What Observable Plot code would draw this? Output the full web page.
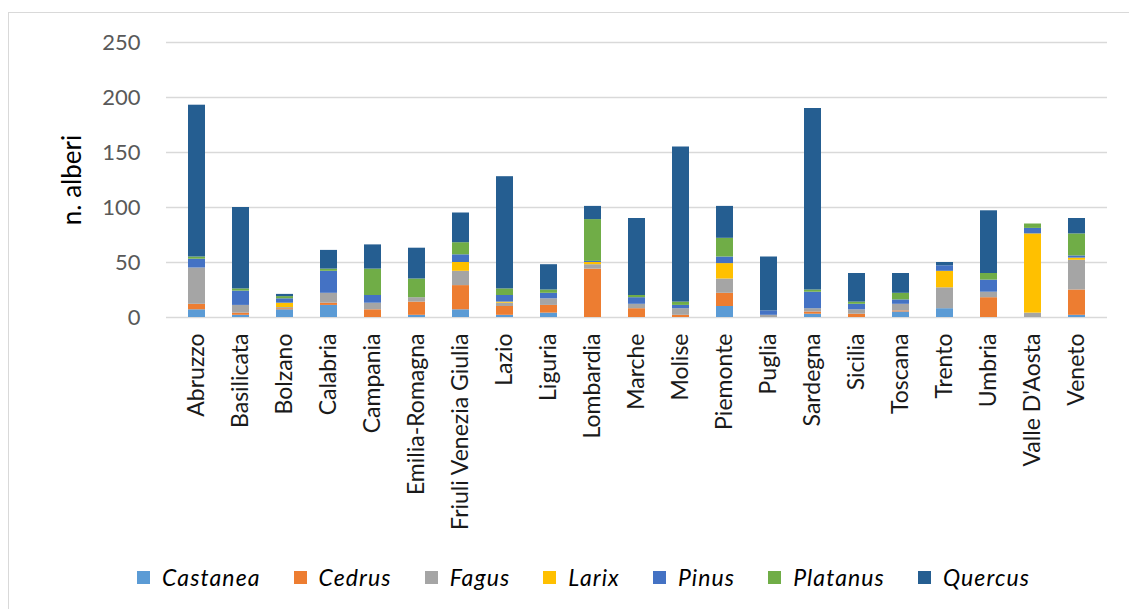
<!DOCTYPE html>
<html>
<head>
<meta charset="utf-8">
<script src="https://cdn.jsdelivr.net/npm/d3@7"></script>
<script src="https://cdn.jsdelivr.net/npm/@observablehq/plot@0.6"></script>
<style>
  html, body { margin: 0; padding: 0; background: #fff; overflow: hidden; }
  #wrap { position: relative; width: 1129px; height: 609px; overflow: hidden; font-family: Lato, sans-serif; }
  #frame { position: absolute; left: 8px; top: 12px; width: 1300px; height: 800px; border: 1.5px solid #d9d9d9; box-sizing: border-box; }
  #chart { position: absolute; left: 0; top: 0; }
  #legend { position: absolute; left: 137px; top: 563px; display: flex; }
  .item { display: flex; align-items: center; margin-right: 33px; font-style: italic; font-size: 23px; color: #000; letter-spacing: 1.1px; }
  .sw { width: 13px; height: 13px; margin-right: 12px; }
</style>
</head>
<body>
<div id="wrap">
  <div id="frame"></div>
  <div id="chart"></div>
  <div id="legend"></div>
</div>
<script>
const regions = ["Abruzzo","Basilicata","Bolzano","Calabria","Campania","Emilia-Romagna","Friuli Venezia Giulia","Lazio","Liguria","Lombardia","Marche","Molise","Piemonte","Puglia","Sardegna","Sicilia","Toscana","Trento","Umbria","Valle D'Aosta","Veneto"];
const species = ["Castanea","Cedrus","Fagus","Larix","Pinus","Platanus","Quercus"];
const colors = ["#5B9BD5","#ED7D31","#A5A5A5","#FFC000","#4472C4","#70AD47","#255E91"];

const castanea = [7, 2, 7, 11, 0, 2, 7, 2, 4, 0, 0, 0, 10, 0, 3, 0, 5, 8, 0, 0, 2];
const cedrus   = [5, 2, 1, 2, 7, 12, 22, 8, 7, 44, 8, 2, 12, 0, 2, 3, 1, 0, 18, 0, 23];
const fagus    = [33, 7, 1, 9, 6, 4, 13, 3, 6, 4, 4, 6, 13, 2, 3, 4, 6, 19, 5, 4, 27];
const larix    = [0, 0, 4, 0, 0, 0, 8, 1, 0, 2, 0, 0, 14, 0, 0, 0, 0, 15, 0, 72, 2];
const pinus    = [8, 13, 4, 20, 7, 0, 7, 6, 5, 1, 6, 3, 6, 4, 15, 5, 4, 5, 11, 5, 2];
const platanus = [2, 2, 2, 2, 24, 17, 11, 6, 3, 38, 2, 3, 17, 0, 2, 2, 6, 0, 6, 4, 20];
const quercus  = [138, 74, 2, 17, 22, 28, 27, 102, 23, 12, 70, 141, 29, 49, 165, 26, 18, 3, 57, 0, 14];

const yTicks = [0, 50, 100, 150, 200, 250];
const yTitle = "n. alberi";

const series = [castanea, cedrus, fagus, larix, pinus, platanus, quercus];
const data = [];
species.forEach((s, si) => {
  regions.forEach((r, ri) => data.push({region: r, species: s, value: series[si][ri]}));
});

const chart = Plot.plot({
  width: 1129,
  height: 545,
  marginTop: 42,
  marginBottom: 228,
  marginLeft: 166,
  marginRight: 22,
  style: {fontFamily: "Lato, sans-serif", background: "transparent"},
  x: {domain: regions, paddingInner: 0.62, paddingOuter: 0.31, label: null},
  y: {domain: [0, 250], label: null},
  color: {domain: species, range: colors},
  marks: [
    Plot.ruleY(yTicks, {stroke: "#d9d9d9", strokeWidth: 1.5}),
    Plot.barY(data, {x: "region", y: "value", fill: "species", order: species}),
    Plot.axisX({tickSize: 0, tickPadding: 16, tickRotate: -90, fontSize: 23, fill: "#1a1a1a", label: null}),
    Plot.axisY({ticks: yTicks, tickSize: 0, tickPadding: 26, fontSize: 22, fill: "#595959", label: null}),
    Plot.text([yTitle], {frameAnchor: "left", textAnchor: "middle", rotate: -90, dx: -94, fontSize: 26, fill: "#000", style: {letterSpacing: "0.5px"}})
  ]
});
document.getElementById("chart").appendChild(chart);

const legend = document.getElementById("legend");
species.forEach((s, i) => {
  const it = document.createElement("div");
  it.className = "item";
  const sw = document.createElement("span");
  sw.className = "sw";
  sw.style.background = colors[i];
  it.appendChild(sw);
  it.appendChild(document.createTextNode(s));
  legend.appendChild(it);
});
</script>
</body>
</html>
